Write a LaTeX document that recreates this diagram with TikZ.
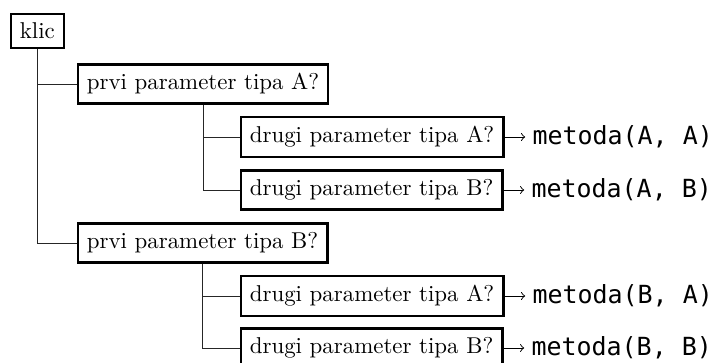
\documentclass[tikz,border=0pt]{standalone}
\usepackage{fontspec}
\newfontfamily\kodafont{DejaVu Sans Mono}
\usetikzlibrary{positioning}

\begin{document}
\begin{tikzpicture}[x=0.4367pt,y=-0.4367pt,>=to,
  vozel/.style={draw,line width=1pt,inner sep=4pt,anchor=west},
  metoda/.style={font=\kodafont\fontsize{10.9}{13}\selectfont,inner sep=3pt},
  veja/.style={black!85}]
\useasboundingbox (0,0) rectangle (718,363);
% ---- root and first-parameter tests ----
\node[vozel] (klic)  at (9.5,31)  {klic};
\node[vozel] (prviA) at (76.5,84)  {prvi parameter tipa A?};
\node[vozel] (prviB) at (76.5,243) {prvi parameter tipa B?};
% ---- second-parameter tests ----
\foreach \a/\b/\yy in {A/A/137, A/B/190, B/A/296, B/B/348} {
  \node[vozel] (drugi\a\b) at (239.5,\yy) {drugi parameter tipa \b?};}
% ---- branches (folder style) ----
\foreach \p/\c in {klic/prviA, klic/prviB, prviA/drugiAA, prviA/drugiAB, prviB/drugiBA, prviB/drugiBB}
  \draw[veja] (\p.south) |- (\c.west);
% ---- chosen methods ----
\foreach \a/\b in {A/A, A/B, B/A, B/B} {
  \node[metoda,right=9pt of drugi\a\b] (metoda\a\b) {metoda(\a, \b)};
  \draw[->] (drugi\a\b) -- (metoda\a\b);}
\end{tikzpicture}
\end{document}
